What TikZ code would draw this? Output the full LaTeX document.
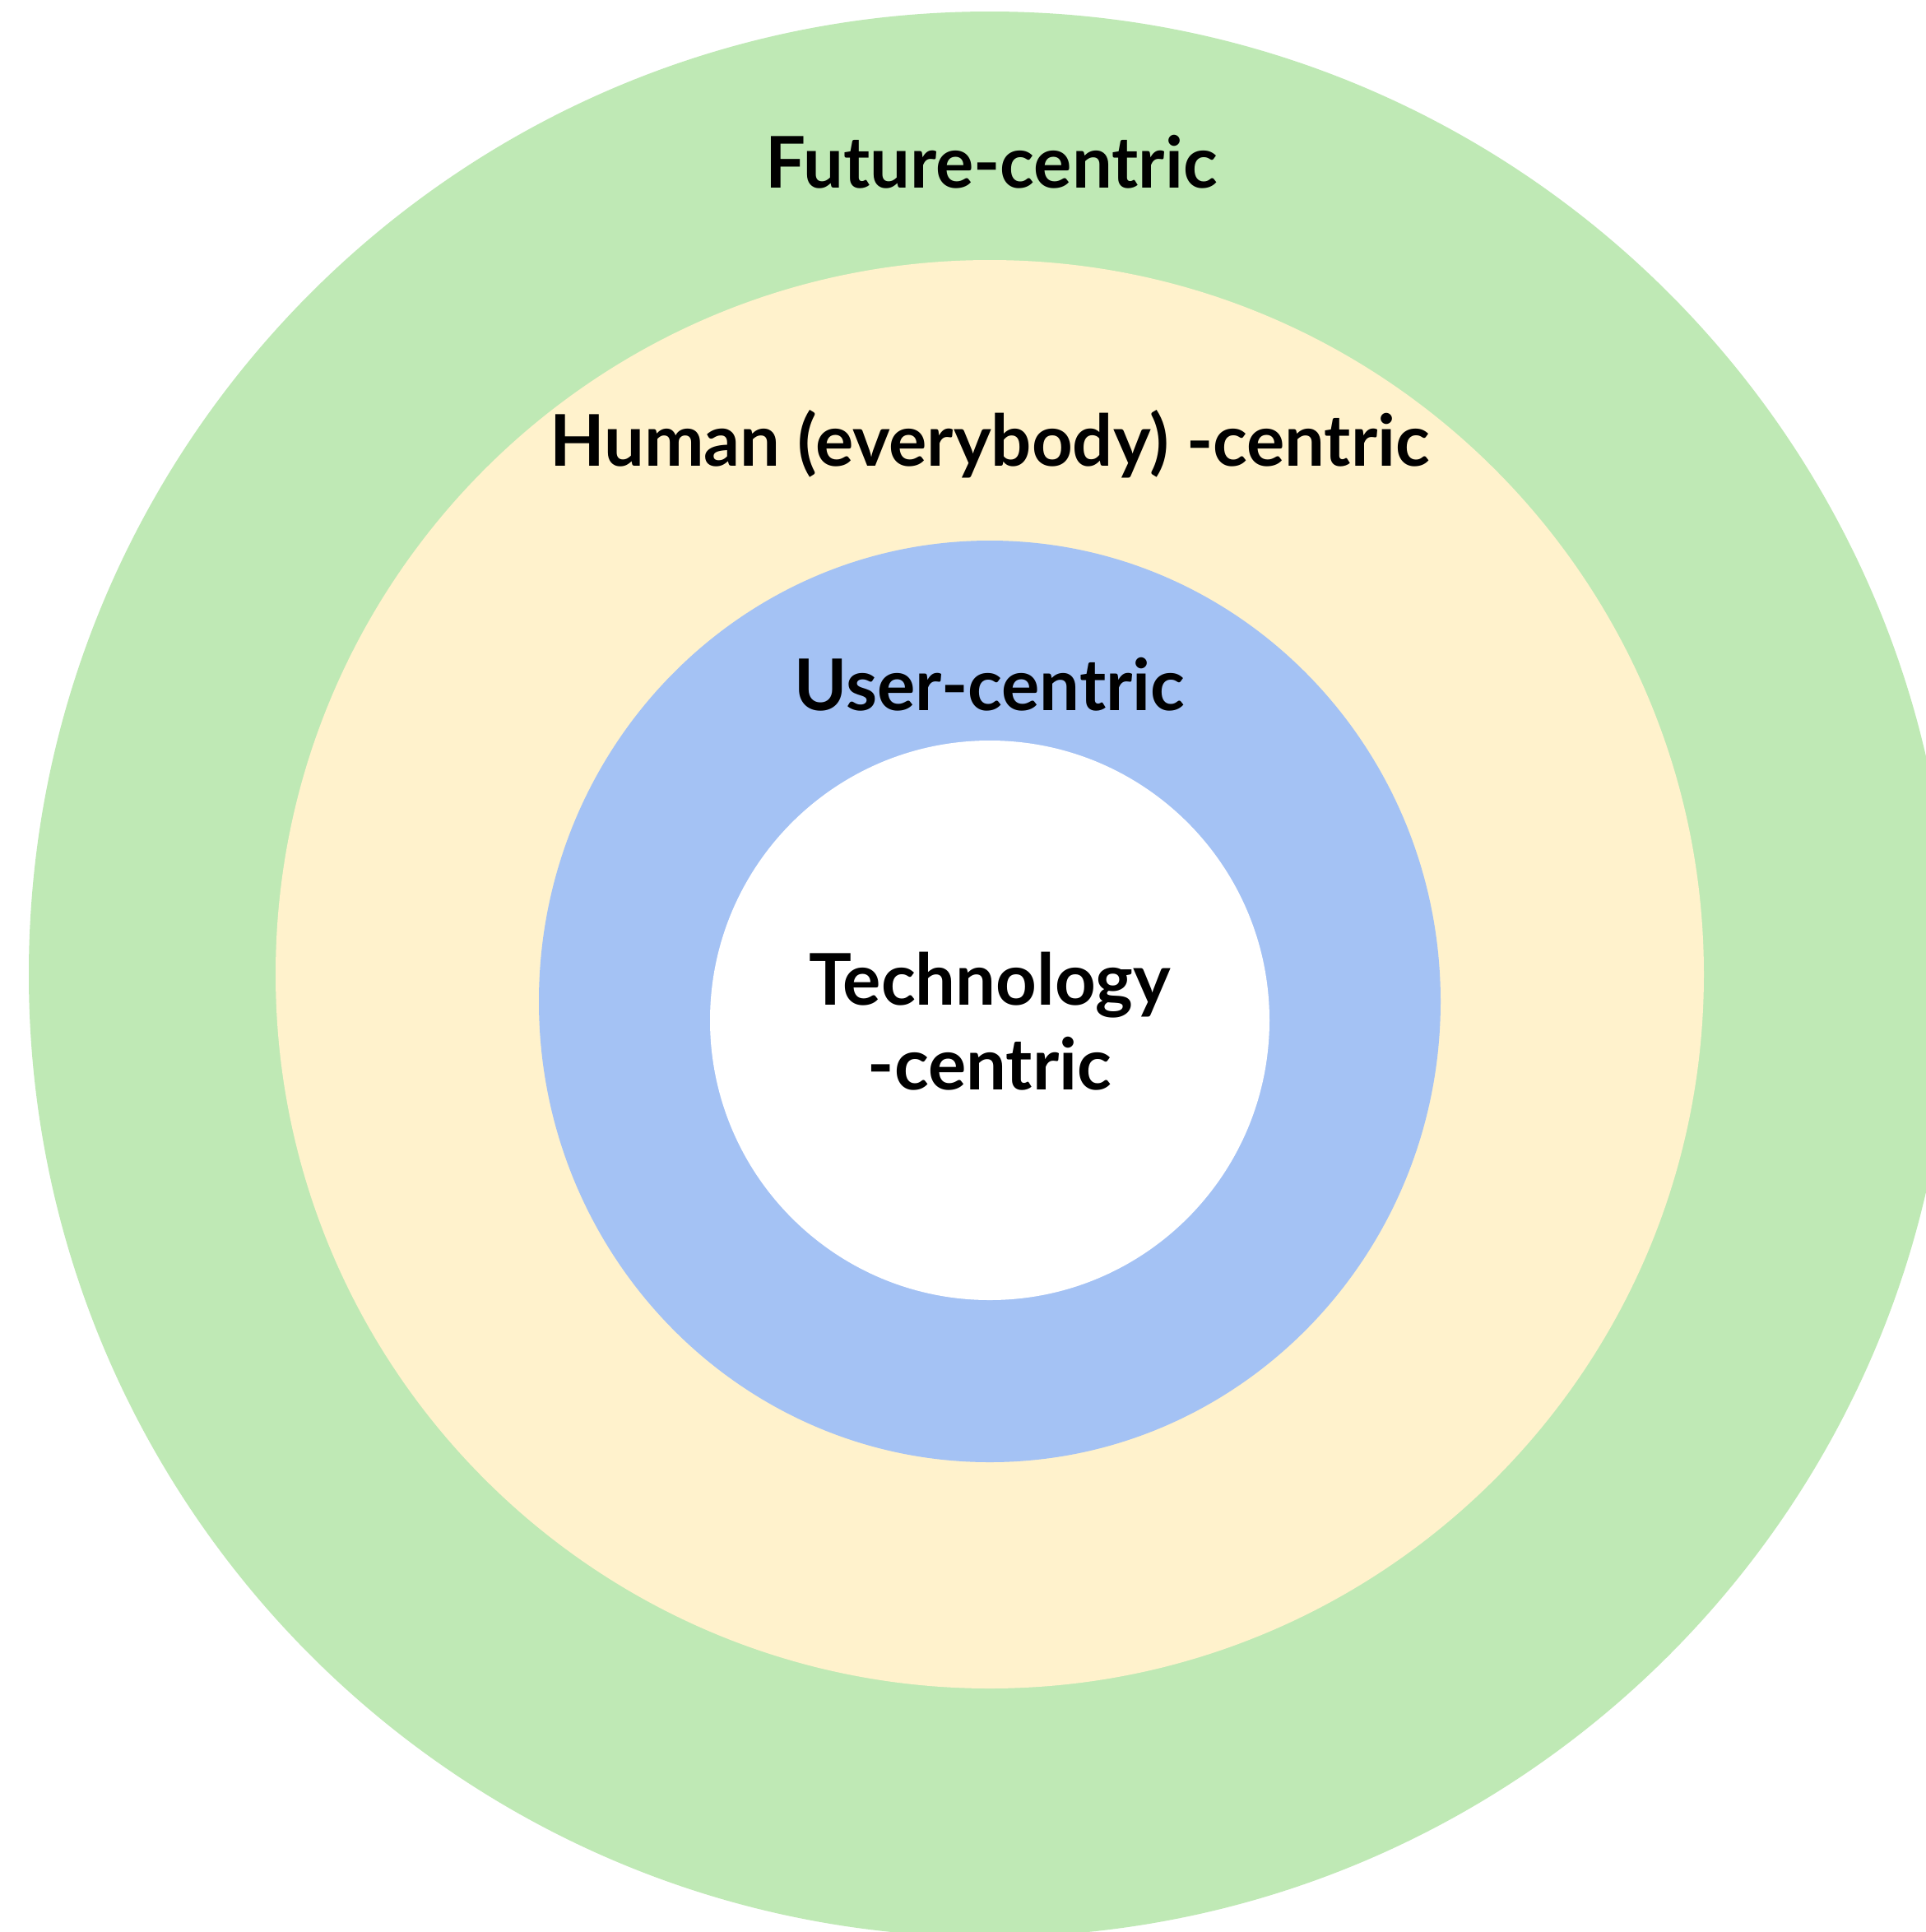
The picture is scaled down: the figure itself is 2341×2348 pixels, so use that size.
\documentclass[tikz,border=0pt]{standalone}
\usepackage{fontspec}
\setmainfont{Lato}
\definecolor{ringgreen}{HTML}{BFE9B5}
\definecolor{ringyellow}{HTML}{FFF2CC}
\definecolor{ringblue}{HTML}{A4C2F4}
\tikzset{
  ringlabel/.style={anchor=base, font=\fontsize{26}{31}\selectfont\bfseries, text=black, inner sep=0pt, align=center},
}
\begin{document}
\begin{tikzpicture}[x=0.3pt,y=-0.3pt]
\useasboundingbox (0,0) rectangle (2341,2348);
\clip (0,0) rectangle (2341,2348);
\fill[white] (0,0) rectangle (2341,2348);
\fill[ringgreen] (1203,1184) ellipse [x radius=1168, y radius=1170];
\fill[ringyellow] (1203,1184) ellipse [x radius=868, y radius=868];
\fill[ringblue] (1203,1217) ellipse [x radius=548, y radius=560];
\fill[white] (1203,1240) ellipse [x radius=340, y radius=340];
\node[ringlabel] (future) at (1205,228) {Future-centric};
\node[ringlabel] (human) at (1203,566) {Human (everybody) -centric};
\node[ringlabel] (user) at (1203,863) {User-centric};
\node[ringlabel] (tech) at (1203,1221) {Technology};
\node[ringlabel] (tech2) at (1203,1324) {-centric};
\end{tikzpicture}
\end{document}
